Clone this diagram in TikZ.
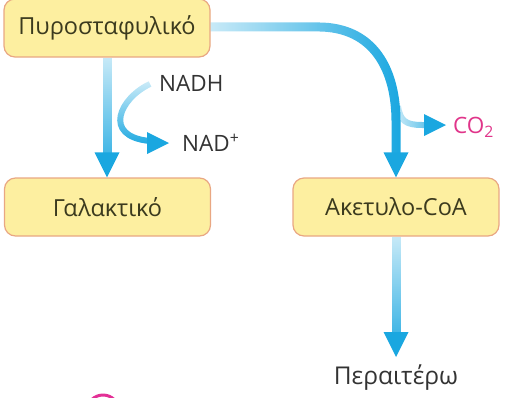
\documentclass[tikz,border=0pt]{standalone}
\usepackage{fontspec}
\setmainfont{Open Sans}
\usetikzlibrary{fadings}

\definecolor{flow}{HTML}{1AA7E0}
\definecolor{boxfill}{HTML}{FDEFA0}
\definecolor{boxline}{HTML}{E9A783}
\definecolor{boxtext}{HTML}{3B3A1E}
\definecolor{gas}{HTML}{E0358A}

% opacity ramps for the flow arrows: pale at the start, solid at the head
\tikzfading[name=fadesouth, top color=transparent!78, bottom color=transparent!0]
\tikzfading[name=fadeeast, left color=transparent!78, right color=transparent!0]

% solid arrow heads, drawn apart from the faded shafts
\newcommand\headdown[1]{\fill[flow] (#1) -- ++(-12.5,-25) -- ++(25,0) -- cycle;}
\newcommand\headright[1]{\fill[flow] (#1) -- ++(-22,-11) -- ++(0,22) -- cycle;}

\tikzset{
  stage/.style={draw=boxline, line width=1.2pt, fill=boxfill, rounded corners=11pt,
    minimum width=206pt, minimum height=58pt, text=boxtext, inner sep=0pt,
    font=\fontsize{23.5}{27}\selectfont},
  cofactor/.style={text=black!80, inner sep=1pt, font=\fontsize{22.5}{26}\selectfont},
  bigflow/.style={draw=flow, line width=9pt},
  smallflow/.style={draw=flow, line width=6pt},
}

\begin{document}
\begin{tikzpicture}[x=1pt, y=-1pt]
  \useasboundingbox (0,0) rectangle (511,397);

  % metabolites
  \node[stage] (pyr)   at (107,28)  {Πυροσταφυλικό};
  \node[stage] (lac)   at (107.5,207) {Γαλακτικό};
  \node[stage] (acoa)  at (396,207) {Ακετυλο-CoA};

  % cofactors and side products
  \node[cofactor, anchor=west] (nadh) at (158,83)  {NADH};
  \node[cofactor, anchor=west] (nad)  at (181,143) {NAD\textsuperscript{+}};
  \node[cofactor, anchor=west, text=gas] (co2) at (452,127) {CO\textsubscript{2}};
  \node[cofactor, font=\fontsize{24.5}{28}\selectfont] (next) at (396,378) {Περαιτέρω};

  % head positions
  \coordinate (lactip) at (pyr.south |- lac.north);
  \coordinate (nadtip) at (169,143);
  \coordinate (acoatip) at (acoa.north);
  \coordinate (co2tip) at (446,125);
  \coordinate (nexttip) at (396,357);

  % pyruvate -> lactate
  \draw[bigflow, path fading=fadesouth, shorten >=24pt] (pyr.south) -- (lactip);
  \headdown{lactip}

  % NADH -> NAD+ coupled to the reduction
  \draw[smallflow, path fading=fadesouth, shorten >=20pt]
    (150,84) .. controls (120,98) and (102,136) .. (nadtip);
  \headright{nadtip}

  % pyruvate -> acetyl-CoA
  \coordinate (bend) at (318,27);
  \draw[bigflow, path fading=fadeeast, shorten >=24pt]
    (pyr.east |- bend) -- (bend) .. controls (374,27) and (396,70) .. (396,122) -- (acoatip);
  \headdown{acoatip}

  % CO2 released
  \coordinate (co2src) at (398,106);
  \draw[smallflow, path fading=fadeeast, shorten >=20pt]
    (co2src) .. controls (400,121) and (406,125) .. (422,125) -- (co2tip);
  \headright{co2tip}

  % acetyl-CoA -> onward
  \draw[bigflow, path fading=fadesouth, shorten >=24pt] (acoa.south) -- (nexttip);
  \headdown{nexttip}

  % magenta ring at the lower edge
  \draw[gas!90!magenta, line width=3pt] (103,411) circle (16);
\end{tikzpicture}
\end{document}
